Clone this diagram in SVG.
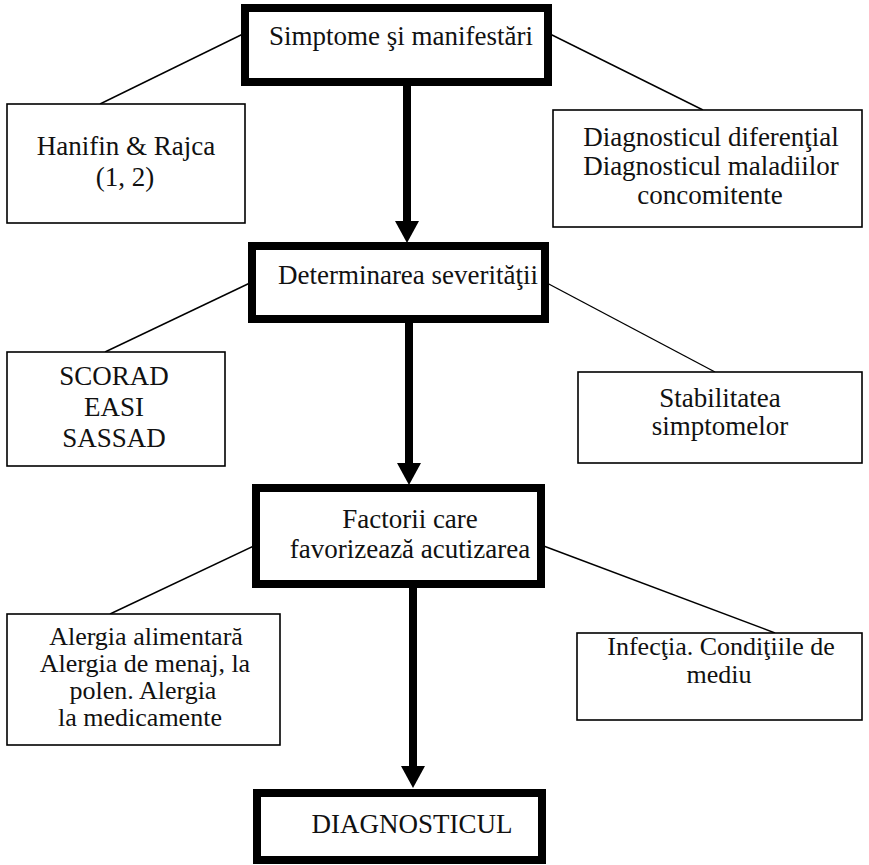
<svg xmlns="http://www.w3.org/2000/svg" width="869" height="865" viewBox="0 0 869 865">
<style>
.main rect{fill:#fff;stroke:#000;stroke-width:8}
.side rect{fill:#fff;stroke:#000;stroke-width:1.6}
text{font-family:"Liberation Serif","Times New Roman",serif;font-size:27px;fill:#111;text-anchor:middle}
.tight text{font-size:26px}
.conn line{stroke:#000;stroke-width:1.4}
.conn .arrow{stroke:#000;stroke-width:8}
.head{fill:#000}
</style>
<defs>
<polygon id="ah" class="head" points="-12,0 12,0 0,22"/>
</defs>
<rect width="869" height="865" fill="#fff"/>
<g class="conn" id="connectors">
<line x1="100" y1="104" x2="245" y2="33"/>
<line x1="703" y1="110" x2="548" y2="33"/>
<line x1="105" y1="352" x2="252" y2="282"/>
<line x1="715" y1="372" x2="545" y2="282"/>
<line x1="110" y1="614" x2="256" y2="545"/>
<line x1="775" y1="633" x2="541" y2="545"/>
<line class="arrow" x1="407" y1="86" x2="407" y2="224"/>
<use href="#ah" x="407" y="221"/>
<line class="arrow" x1="409" y1="322" x2="409" y2="465"/>
<use href="#ah" x="409" y="463"/>
<line class="arrow" x1="413" y1="588" x2="413" y2="768"/>
<use href="#ah" x="413" y="766"/>
</g>
<g id="n1" class="main"><rect x="245" y="8" width="303" height="74"/><text x="401" y="45">Simptome şi manifestări</text></g>
<g id="n2" class="main"><rect x="252" y="246" width="293" height="73"/><text x="408" y="284">Determinarea severităţii</text></g>
<g id="n3" class="main"><rect x="256" y="488" width="285" height="96"/><text x="410" y="528">Factorii care</text><text x="410" y="558">favorizează acutizarea</text></g>
<g id="n4" class="main"><rect x="257" y="793" width="285" height="67"/><text x="412" y="833">DIAGNOSTICUL</text></g>
<g id="s1" class="side"><rect x="7" y="104" width="238" height="119"/><text x="126" y="155">Hanifin &amp; Rajca</text><text x="125" y="186">(1, 2)</text></g>
<g id="s2" class="side"><rect x="553" y="110" width="309" height="117"/><text x="711" y="146">Diagnosticul diferenţial</text><text x="711" y="175">Diagnosticul maladiilor</text><text x="710" y="204">concomitente</text></g>
<g id="s3" class="side"><rect x="7" y="352" width="218" height="114"/><text x="114" y="385">SCORAD</text><text x="114" y="416">EASI</text><text x="114" y="447">SASSAD</text></g>
<g id="s4" class="side"><rect x="578" y="372" width="284" height="91"/><text x="720" y="407">Stabilitatea</text><text x="720" y="435">simptomelor</text></g>
<g id="s5" class="side tight"><rect x="7" y="614" width="273" height="131"/><text x="146" y="645">Alergia alimentară</text><text x="145" y="672">Alergia de menaj, la</text><text x="143" y="699">polen. Alergia</text><text x="140" y="726">la medicamente</text></g>
<g id="s6" class="side tight"><rect x="577" y="633" width="285" height="87"/><text x="721" y="655">Infecţia. Condiţiile de</text><text x="719" y="683">mediu</text></g>
</svg>
